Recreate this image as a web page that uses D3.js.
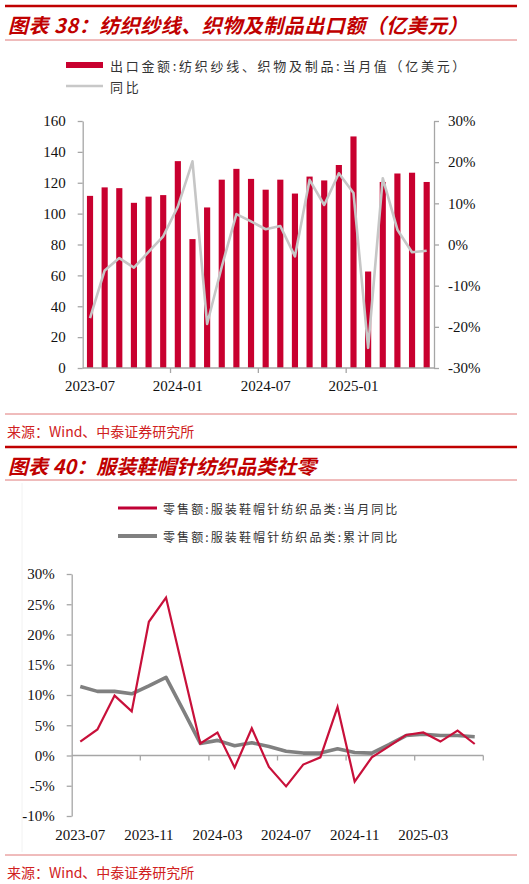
<!DOCTYPE html>
<html>
<head>
<meta charset="utf-8">
<script src="https://cdn.jsdelivr.net/npm/d3@7"></script>
<style>
  html, body { margin: 0; padding: 0; background: #fff; }
  svg { display: block; }
</style>
</head>
<body>
<div id="page"></div>
<script>
// ---- Figure 38: textile yarn / fabric / products exports ----
const exportMonths = [
  '2023-07', '2023-08', '2023-09', '2023-10', '2023-11', '2023-12',
  '2024-01', '2024-02', '2024-03', '2024-04', '2024-05', '2024-06',
  '2024-07', '2024-08', '2024-09', '2024-10', '2024-11', '2024-12',
  '2025-01', '2025-02', '2025-03', '2025-04', '2025-05', '2025-06'
];
// monthly export value, 100 million USD
const exportValues = [
  111.5, 117, 116.5, 107, 111, 112,
  134, 83.5, 104, 122, 129, 122.5,
  115.5, 122, 113, 124, 121.5, 131.5,
  150, 62.5, 120.5, 126, 126.5, 120.5
];
// year-on-year, %
const exportYoY = [
  -17.9, -6.3, -3.3, -5.6, -1.8, 2.0,
  9.2, 20.2, -19.3, -5.4, 7.4, 5.6,
  3.7, 4.5, -2.9, 15.7, 9.6, 17.3,
  12.5, -25.1, 16.1, 3.6, -1.9, -1.5
];
const exportLeftTicks = [0, 20, 40, 60, 80, 100, 120, 140, 160];
const exportRightTicks = [-30, -20, -10, 0, 10, 20, 30];
const exportXLabels = ['2023-07', '2024-01', '2024-07', '2025-01'];
const exportXTickMonths = ['2024-01', '2024-07', '2025-01'];

// ---- Figure 40: apparel / shoes / hats / textiles retail sales ----
const retailMonths = exportMonths.slice();
const retailMonthlyYoY = [
  2.3, 4.3, 9.9, 7.3, 22.1, 26.1,
  14.0, 2.0, 3.8, -2.0, 4.5, -1.9,
  -5.1, -1.5, -0.3, 8.0, -4.3, -0.3,
  1.5, 3.4, 3.8, 2.3, 4.1, 1.9
];
const retailCumYoY = [
  11.4, 10.6, 10.6, 10.2, 11.5, 12.9,
  7.5, 2.0, 2.5, 1.6, 2.1, 1.5,
  0.7, 0.4, 0.4, 1.1, 0.5, 0.4,
  1.8, 3.3, 3.5, 3.3, 3.3, 3.1
];
const retailYTicks = [-10, -5, 0, 5, 10, 15, 20, 25, 30];
const retailXLabels = ['2023-07', '2023-11', '2024-03', '2024-07', '2024-11', '2025-03'];
const retailXTickMonths = ['2023-11', '2024-03', '2024-07', '2024-11', '2025-03'];

// ---- styling ----
const W = 529, H = 884;
const RED_TITLE = '#c00000';
const RED_RULE = '#e07878';
const RED_BAR = '#c8002f';
const GREY_AXIS = '#a6a6a6';
const TICK_FONT = '"Liberation Serif", "Times New Roman", serif';
const CJK_FONT = '"Noto Sans CJK SC", "Noto Sans", sans-serif';

const svg = d3.select('#page').append('svg')
  .attr('width', W)
  .attr('height', H)
  .attr('viewBox', `0 0 ${W} ${H}`);

// Report furniture: rules, titles, sources
function rule(y, width, color) {
  svg.append('line')
    .attr('x1', 5).attr('x2', 517)
    .attr('y1', y).attr('y2', y)
    .attr('stroke', color).attr('stroke-width', width);
}
function title(y, text, spacing) {
  svg.append('text')
    .attr('x', 8).attr('y', y)
    .attr('dominant-baseline', 'central')
    .attr('fill', RED_TITLE)
    .style('font-family', CJK_FONT)
    .style('font-size', '20px')
    .style('font-weight', 'bold')
    .style('font-style', 'italic')
    .style('letter-spacing', (spacing || 0) + 'px')
    .text(text);
}
function source(y) {
  svg.append('text')
    .attr('x', 7).attr('y', y)
    .attr('dominant-baseline', 'central')
    .attr('fill', '#d02020')
    .style('font-family', CJK_FONT)
    .style('font-size', '14px')
    .text('来源：Wind、中泰证券研究所');
}
function legendText(x, y, text, size, spacing) {
  svg.append('text')
    .attr('x', x).attr('y', y)
    .attr('dominant-baseline', 'central')
    .attr('fill', '#333')
    .style('font-family', CJK_FONT)
    .style('font-size', size + 'px')
    .style('letter-spacing', spacing + 'px')
    .text(text);
}
function styleTicks(g) {
  g.select('.domain').attr('stroke', GREY_AXIS).attr('stroke-width', 1.3);
  g.selectAll('.tick line').attr('stroke', GREY_AXIS).attr('stroke-width', 1.3);
  g.selectAll('.tick text')
    .attr('fill', '#111')
    .style('font-family', TICK_FONT)
    .style('font-size', '15px');
}

rule(6, 2.5, RED_TITLE);
title(24, '图表 38：纺织纱线、织物及制品出口额（亿美元）', 0.5);
rule(40, 1, RED_RULE);
rule(414, 1, RED_RULE);
source(431);

rule(447, 2.5, RED_TITLE);
title(465, '图表 40：服装鞋帽针纺织品类社零', 0);
rule(480, 1, RED_RULE);
rule(855, 1, RED_RULE);
source(872);

// faint frame edge of the pasted second chart
svg.append('line')
  .attr('x1', 22).attr('x2', 22).attr('y1', 483).attr('y2', 852)
  .attr('stroke', '#f2f2f2').attr('stroke-width', 1);

// ================= Chart 1: bars + YoY line =================
(function exportChart() {
  const left = 82.7, right = 434, top = 121, bottom = 368;

  // cells tile the axis, bars sit centred in them
  const xCell = d3.scaleBand().domain(exportMonths).range([left, right]);
  const xBar = d3.scaleBand().domain(exportMonths).range([left, right])
    .paddingInner(0.58).paddingOuter(0.29);
  const yL = d3.scaleLinear().domain([0, 160]).range([bottom, top]);
  const yR = d3.scaleLinear().domain([-30, 30]).range([bottom, top]);
  const cx = m => xCell(m) + xCell.bandwidth() / 2;

  // legend
  svg.append('rect')
    .attr('x', 66).attr('y', 62).attr('width', 37).attr('height', 6)
    .attr('fill', RED_BAR);
  legendText(110, 65, '出口金额:纺织纱线、织物及制品:当月值（亿美元）', 13, 2.7);
  svg.append('line')
    .attr('x1', 66).attr('x2', 103).attr('y1', 86).attr('y2', 86)
    .attr('stroke', '#c8c8c8').attr('stroke-width', 2.5);
  legendText(110, 86, '同比', 13, 2.7);

  // bars
  svg.append('g').selectAll('rect')
    .data(exportMonths)
    .join('rect')
    .attr('x', m => xBar(m))
    .attr('width', xBar.bandwidth())
    .attr('y', (m, i) => yL(exportValues[i]))
    .attr('height', (m, i) => yL(0) - yL(exportValues[i]))
    .attr('fill', RED_BAR);

  // axes
  svg.append('g')
    .attr('transform', `translate(${left},0)`)
    .call(d3.axisLeft(yL).tickValues(exportLeftTicks).tickSize(5).tickSizeOuter(0).tickPadding(12))
    .call(styleTicks);
  svg.append('g')
    .attr('transform', `translate(${right},0)`)
    .call(d3.axisRight(yR).tickValues(exportRightTicks).tickSize(5).tickSizeOuter(0).tickPadding(9)
      .tickFormat(d => d + '%'))
    .call(styleTicks);

  // category axis: ticks between months, labels under month centres
  const xAxis = svg.append('g');
  xAxis.append('line')
    .attr('x1', left).attr('x2', right).attr('y1', bottom).attr('y2', bottom)
    .attr('stroke', GREY_AXIS).attr('stroke-width', 1.3);
  xAxis.selectAll('line.tk')
    .data(exportXTickMonths)
    .join('line')
    .attr('class', 'tk')
    .attr('x1', m => xCell(m)).attr('x2', m => xCell(m))
    .attr('y1', bottom).attr('y2', bottom + 5)
    .attr('stroke', GREY_AXIS).attr('stroke-width', 1.3);
  xAxis.selectAll('text')
    .data(exportXLabels)
    .join('text')
    .attr('x', m => cx(m))
    .attr('y', bottom + 18)
    .attr('text-anchor', 'middle')
    .attr('dominant-baseline', 'central')
    .attr('fill', '#111')
    .style('font-family', TICK_FONT)
    .style('font-size', '15px')
    .text(m => m);

  // YoY line on the right axis
  const line = d3.line()
    .x((d, i) => cx(exportMonths[i]))
    .y(d => yR(d));
  svg.append('path')
    .datum(exportYoY)
    .attr('d', line)
    .attr('fill', 'none')
    .attr('stroke', '#c6c6c6')
    .attr('stroke-width', 2.6)
    .attr('stroke-linejoin', 'round');
})();

// ================= Chart 2: retail YoY lines =================
(function retailChart() {
  const left = 71.7, right = 483.3, top = 574, bottom = 816;

  const xCell = d3.scaleBand().domain(retailMonths).range([left, right]);
  const y = d3.scaleLinear().domain([-10, 30]).range([bottom, top]);
  const cx = m => xCell(m) + xCell.bandwidth() / 2;

  // legend
  svg.append('line')
    .attr('x1', 118).attr('x2', 157).attr('y1', 508).attr('y2', 508)
    .attr('stroke', '#c00035').attr('stroke-width', 3);
  legendText(163, 508, '零售额:服装鞋帽针纺织品类:当月同比', 12, 2.1);
  svg.append('line')
    .attr('x1', 118).attr('x2', 157).attr('y1', 536).attr('y2', 536)
    .attr('stroke', '#808080').attr('stroke-width', 4);
  legendText(163, 536, '零售额:服装鞋帽针纺织品类:累计同比', 12, 2.1);

  // value axis
  svg.append('g')
    .attr('transform', `translate(${left},0)`)
    .call(d3.axisLeft(y).tickValues(retailYTicks).tickSize(5).tickSizeOuter(0).tickPadding(12)
      .tickFormat(d => d + '%'))
    .call(styleTicks);

  // category axis along the zero line, labels at the bottom of the plot
  const zeroY = y(0);
  const xAxis = svg.append('g');
  xAxis.append('line')
    .attr('x1', left).attr('x2', right).attr('y1', zeroY).attr('y2', zeroY)
    .attr('stroke', GREY_AXIS).attr('stroke-width', 1.3);
  xAxis.selectAll('line.tk')
    .data(retailXTickMonths)
    .join('line')
    .attr('class', 'tk')
    .attr('x1', m => xCell(m)).attr('x2', m => xCell(m))
    .attr('y1', zeroY).attr('y2', zeroY + 5)
    .attr('stroke', GREY_AXIS).attr('stroke-width', 1.3);
  // closing tick at the far end of the axis
  xAxis.append('line')
    .attr('x1', right).attr('x2', right)
    .attr('y1', zeroY).attr('y2', zeroY + 5)
    .attr('stroke', GREY_AXIS).attr('stroke-width', 1.3);
  xAxis.selectAll('text')
    .data(retailXLabels)
    .join('text')
    .attr('x', m => cx(m))
    .attr('y', bottom + 19)
    .attr('text-anchor', 'middle')
    .attr('dominant-baseline', 'central')
    .attr('fill', '#111')
    .style('font-family', TICK_FONT)
    .style('font-size', '15px')
    .text(m => m);

  const line = d3.line()
    .x((d, i) => cx(retailMonths[i]))
    .y(d => y(d));

  svg.append('path')
    .datum(retailCumYoY)
    .attr('d', line)
    .attr('fill', 'none')
    .attr('stroke', '#808080')
    .attr('stroke-width', 3.6)
    .attr('stroke-linejoin', 'round');

  svg.append('path')
    .datum(retailMonthlyYoY)
    .attr('d', line)
    .attr('fill', 'none')
    .attr('stroke', '#c8103a')
    .attr('stroke-width', 2.2)
    .attr('stroke-linejoin', 'miter');
})();
</script>
</body>
</html>
